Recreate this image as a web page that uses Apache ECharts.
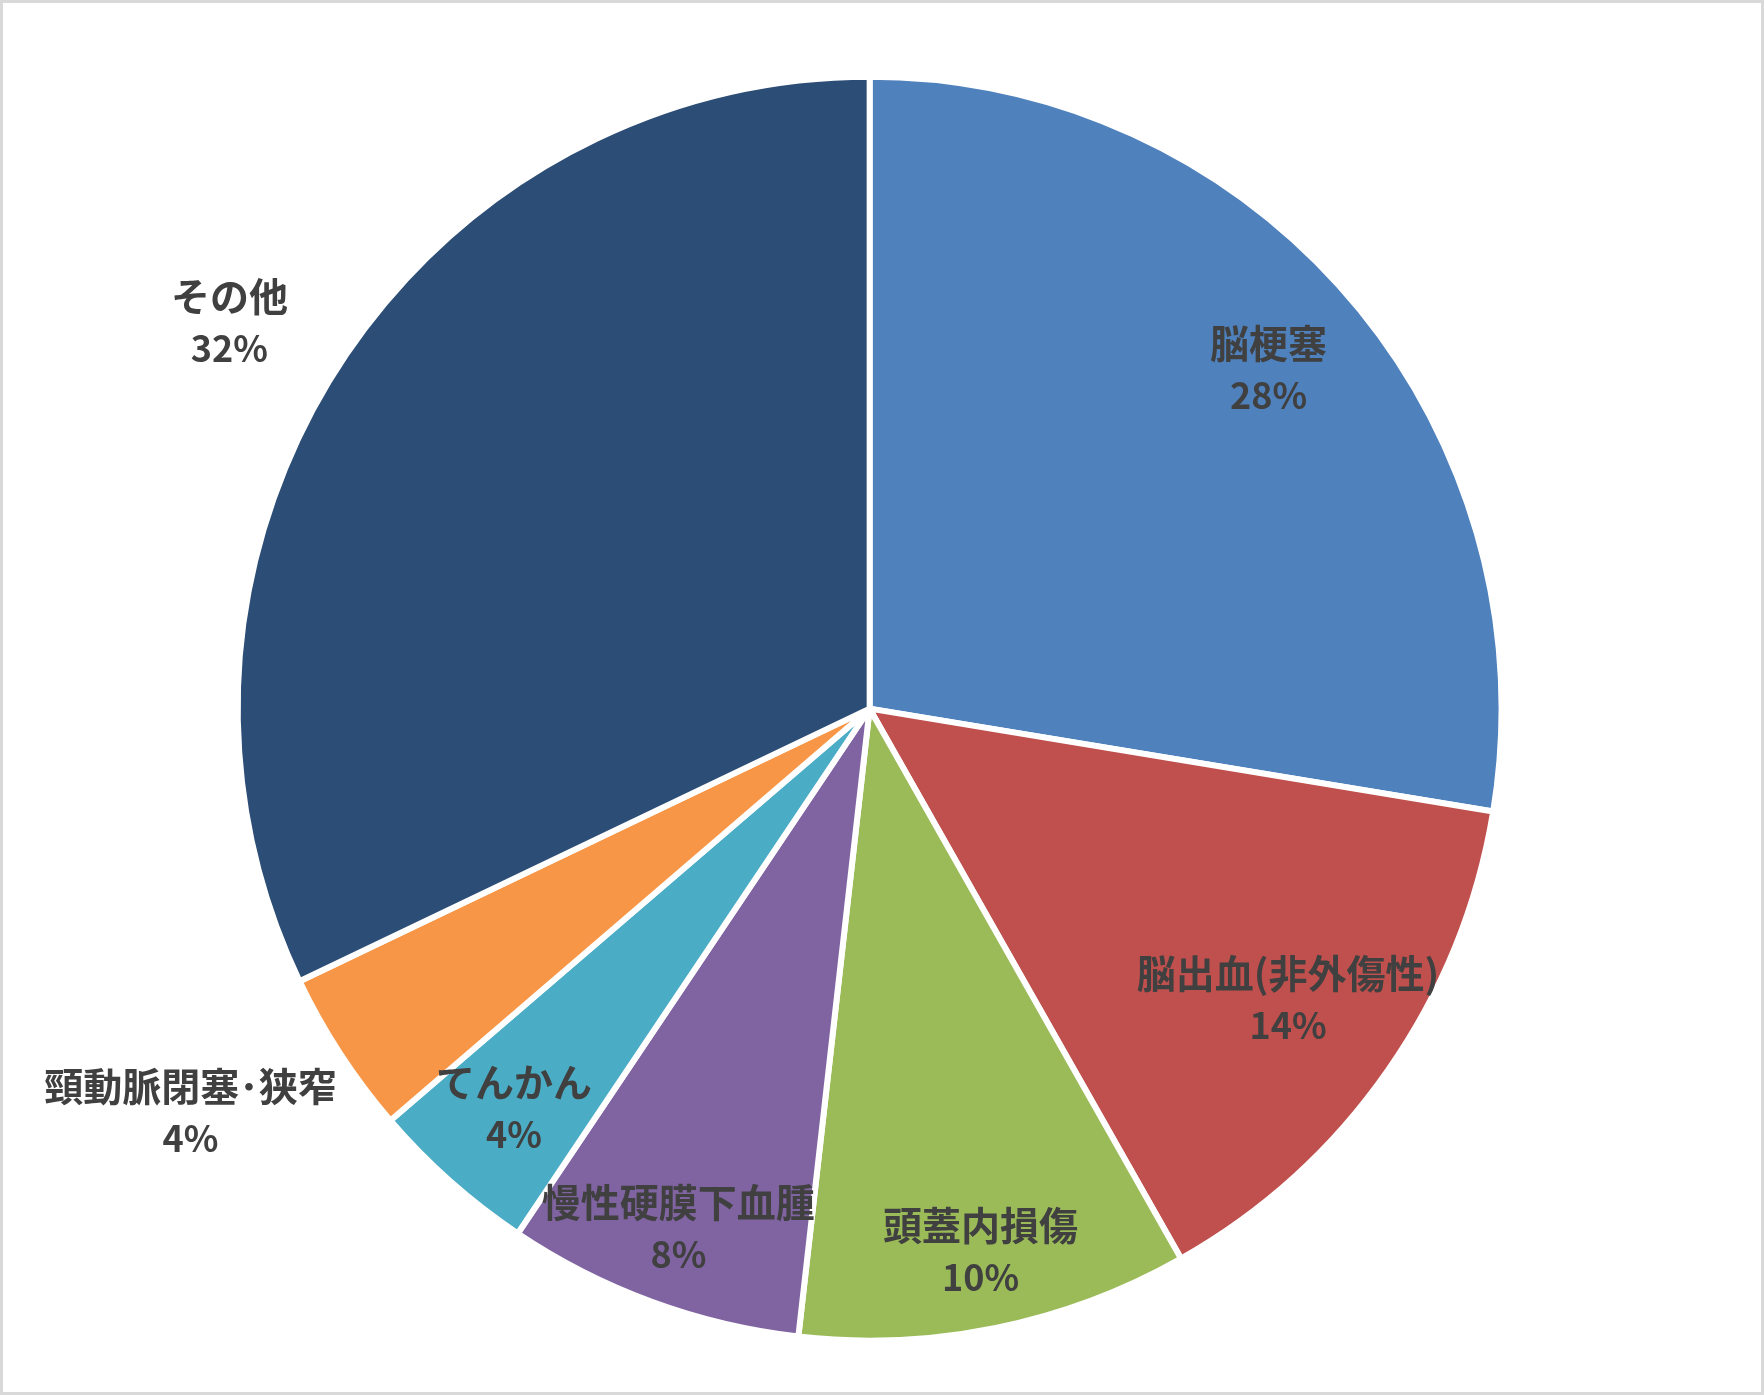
<!DOCTYPE html>
<html lang="ja">
<head>
    <meta charset="UTF-8">
    <title>疾患別割合</title>
    <script src="https://cdn.jsdelivr.net/npm/echarts@6/dist/echarts.min.js"></script>
    <style>
        html, body { margin: 0; padding: 0; background: #fff; }
        #main { width: 1764px; height: 1395px; position: relative; }
        #frame { position: absolute; left: 0; top: 0; width: 1764px; height: 1395px;
                 box-sizing: border-box; border: 3px solid #d9d9d9; pointer-events: none; }
    </style>
</head>
<body>
<div id="main"></div>
<div id="frame"></div>
<script type="text/javascript">
    // データ（時計回り、12時の位置から）
    var categories = ['脳梗塞', '脳出血(非外傷性)', '頭蓋内損傷', '慢性硬膜下血腫', 'てんかん', '頸動脈閉塞･狭窄', 'その他'];
    var values = [27.6, 14.2, 10.0, 7.6, 4.3, 4.2, 32.1];
    var colors = ['#4F81BD', '#C0504D', '#9BBB59', '#8064A2', '#4BACC6', '#F79646', '#2C4D75'];

    // ラベル位置：中心からの距離（半径比）と角度の補正（度）
    var labelDist = [0.82, 0.80, 0.87, 0.87, 0.84, 1.24, 1.171];
    var labelTurn = [0, 0, 0, 0, 0, 2.3, -1.2];
    var centerPct = [0.493, 0.508];

    var myChart = echarts.init(document.getElementById('main'));

    var fontFamily = '"Noto Sans CJK JP", "Noto Sans", sans-serif';

    var option = {
        backgroundColor: '#fff',
        color: colors,
        series: [
            {
                type: 'pie',
                center: [centerPct[0] * 100 + '%', centerPct[1] * 100 + '%'],
                radius: '90.6%',
                startAngle: 90,
                clockwise: true,
                percentPrecision: 0,
                avoidLabelOverlap: false,
                animation: false,
                itemStyle: { borderColor: '#fff', borderWidth: 6 },
                label: {
                    show: true,
                    position: 'inside',
                    formatter: '{n|{b}}\n{p|{d}%}',
                    color: '#404040',
                    fontFamily: fontFamily,
                    fontWeight: 'bold',
                    rich: {
                        n: { fontFamily: fontFamily, fontWeight: 'bold', fontSize: 39, lineHeight: 52, color: '#404040' },
                        p: { fontFamily: fontFamily, fontWeight: 'bold', fontSize: 36, lineHeight: 52, color: '#404040' }
                    }
                },
                labelLine: { show: false },
                labelLayout: function (params) {
                    // 内側ラベル(半径の半分)を指定の距離・角度へ移す
                    var cx = myChart.getWidth() * centerPct[0];
                    var cy = myChart.getHeight() * centerPct[1];
                    var r = params.labelRect;
                    var vx = r.x + r.width / 2 - cx;
                    var vy = r.y + r.height / 2 - cy;
                    var k = labelDist[params.dataIndex] / 0.5;
                    var a = labelTurn[params.dataIndex] * Math.PI / 180;
                    var rx = (vx * Math.cos(a) - vy * Math.sin(a)) * k;
                    var ry = (vx * Math.sin(a) + vy * Math.cos(a)) * k;
                    return { x: cx + rx, y: cy + ry };
                },
                data: categories.map(function (c, i) {
                    return { name: c, value: values[i] };
                })
            }
        ]
    };

    myChart.setOption(option);
</script>
</body>
</html>
